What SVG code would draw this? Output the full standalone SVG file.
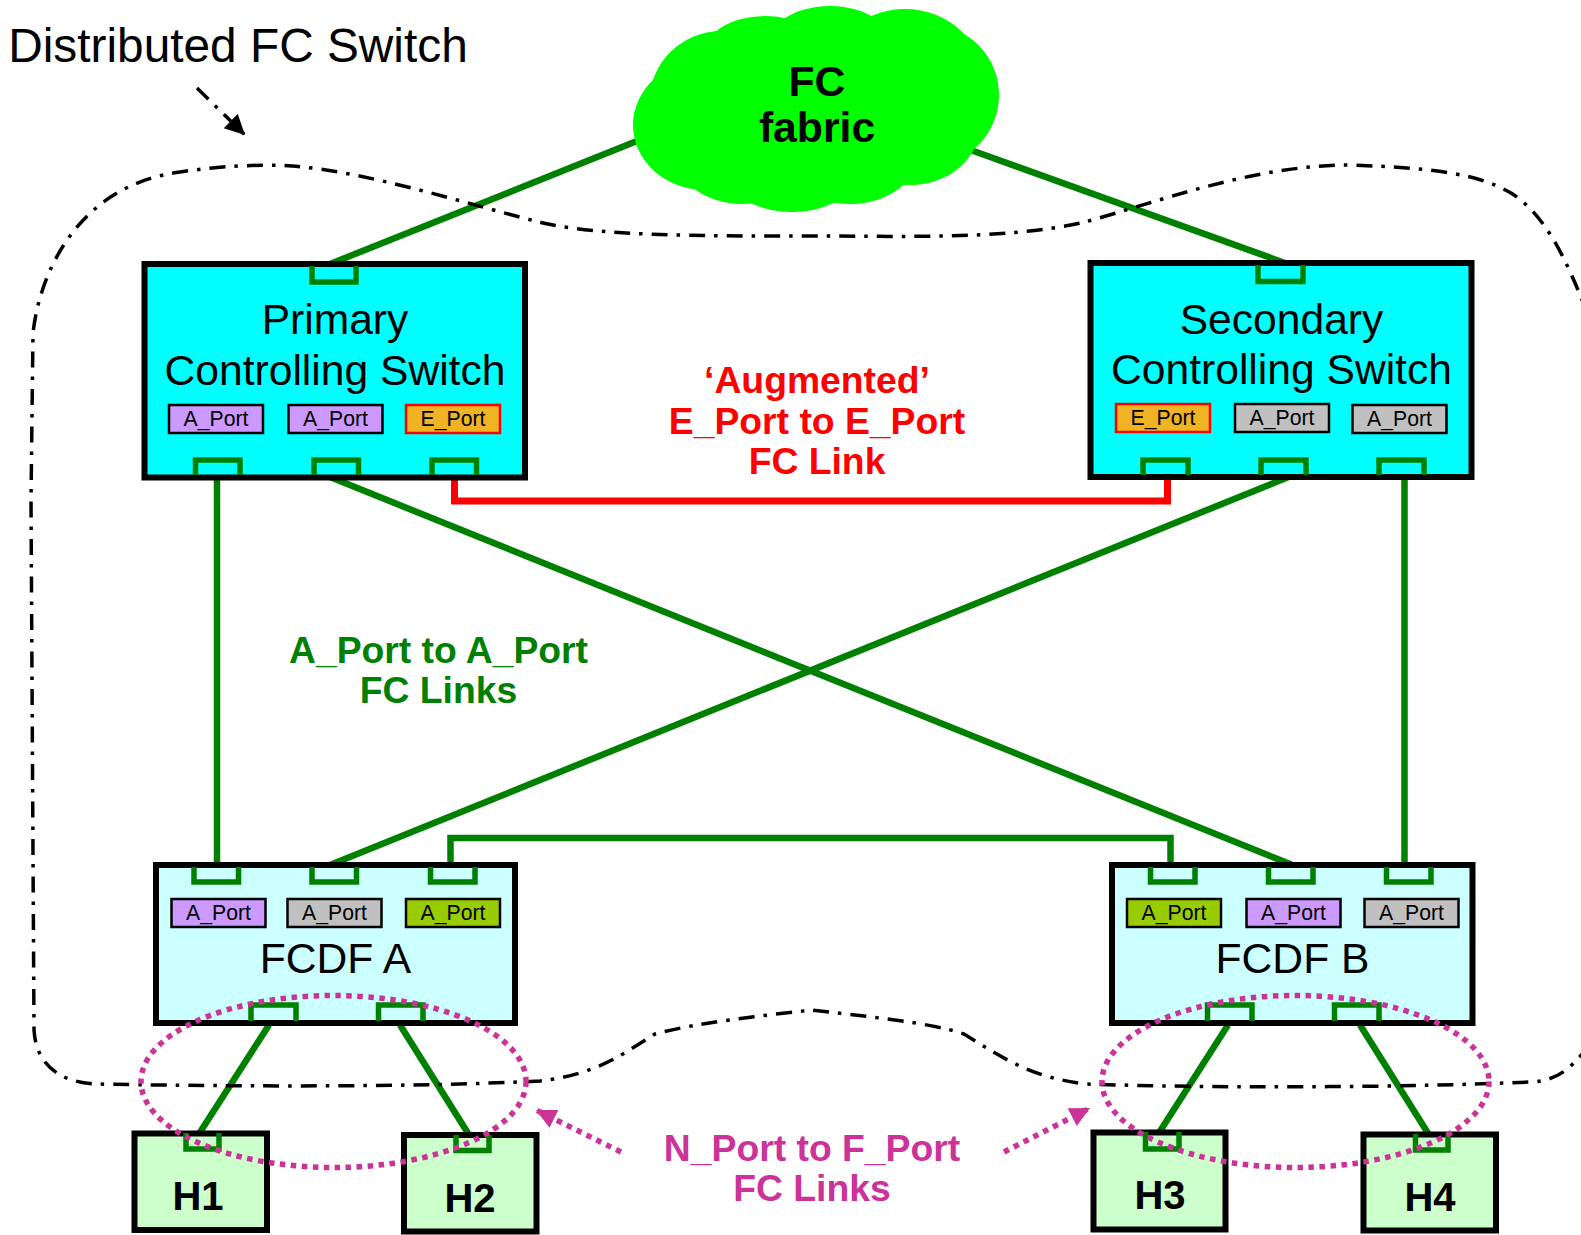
<svg xmlns="http://www.w3.org/2000/svg" width="1581" height="1235" viewBox="0 0 1581 1235">
<style>
text{font-family:"Liberation Sans",Arial,sans-serif;text-anchor:middle;fill:#000}
.box{stroke:#000;stroke-width:6}
.ctl{fill:#00ffff}.fcdf{fill:#ccffff}.host{fill:#ccffcc}
.pb{fill:none;stroke:#008000;stroke-width:5.5}
.link{fill:none;stroke:#008000;stroke-width:6.5}
.elink{fill:none;stroke:#ff0000;stroke-width:7}
.lab{stroke:#000;stroke-width:2.5}
.red{stroke:#ff0000}
.pur{fill:#cc99ff}.gry{fill:#c0c0c0}.olv{fill:#99cc00}.org{fill:#f0b323}
.pt{font-size:21.2px}
.big{font-size:42.6px}
.hb{font-size:40px;font-weight:bold}
.cap{font-size:37.3px;font-weight:bold}
.dd{fill:none;stroke:#000;stroke-width:3.5;stroke-dasharray:16 9 3.5 9}
.dots{fill:none;stroke:#cc3399;stroke-width:5.5;stroke-dasharray:5.5 5.5}
</style>
<defs>
<marker id="ab" markerUnits="userSpaceOnUse" markerWidth="22" markerHeight="22" refX="20" refY="10" orient="auto"><path d="M0,0 L20,10 L0,20 Z" fill="#000"/></marker>
<marker id="ap" markerUnits="userSpaceOnUse" markerWidth="22" markerHeight="22" refX="20" refY="10" orient="auto"><path d="M0,0 L20,10 L0,20 Z" fill="#cc3399"/></marker>
</defs>
<rect width="1581" height="1235" fill="#fff"/>
<g id="connectors">
<path class="link" d="M642,139 L330,264"/>
<path class="link" d="M968,149 L1285,263"/>
<path class="link" d="M217,477 V865"/>
<path class="link" d="M330,477 L1292.5,865"/>
<path class="link" d="M1404.5,477 V865"/>
<path class="link" d="M1288.5,477 L330,865"/>
<path class="link" d="M450.5,865 V838 H1170.5 V865"/>
<path class="elink" d="M454.5,477 V501 H1167.5 V477"/>
<path class="link" d="M269,1025 L199.5,1133"/>
<path class="link" d="M400,1025 L468.5,1134"/>
<path class="link" d="M1228,1025 L1159.5,1132"/>
<path class="link" d="M1360,1025 L1428.5,1134"/>
</g>
<g id="boundary">
<path class="dd" d="M1590,1045 C1572,1066 1560,1081 1530,1082 C1400,1088 1200,1088 1087,1084 C1030,1078 1000,1056 964,1034 C930,1022 860,1016 812,1010 C760,1016 700,1022 655,1034 C625,1052 600,1074 540,1081 C400,1088 200,1086 95,1084 C60,1082 36,1065 34,1030 L31,500 L33,333 C40,270 80,185 180,172 C220,166 260,164 292,166 C370,172 470,205 543,223 C600,236 700,236 812,236 C900,236 1000,240 1081,223 C1150,205 1250,165 1350,165 C1440,168 1480,175 1511,193 C1545,215 1565,255 1590,320"/>
<path class="dd" d="M197,88 L245,135" marker-end="url(#ab)"/>
</g>
<text x="238" y="62" style="font-size:47.8px">Distributed FC Switch</text>
<g id="cloud" fill="#00ff00">
<ellipse cx="705" cy="125" rx="72" ry="65"/>
<ellipse cx="722" cy="100" rx="72" ry="69"/>
<ellipse cx="765" cy="60" rx="65" ry="44"/>
<ellipse cx="830" cy="50" rx="65" ry="44"/>
<ellipse cx="905" cy="85" rx="80" ry="76"/>
<ellipse cx="930" cy="95" rx="69" ry="70"/>
<ellipse cx="910" cy="125" rx="70" ry="60"/>
<ellipse cx="850" cy="150" rx="70" ry="54"/>
<ellipse cx="792" cy="165" rx="70" ry="47"/>
<ellipse cx="743" cy="150" rx="70" ry="54"/>
<ellipse cx="810" cy="110" rx="150" ry="80"/>
<text x="817" y="96" style="font-size:42.7px;font-weight:bold">FC</text>
<text x="817" y="142" style="font-size:42.7px;font-weight:bold">fabric</text>
</g>
<g id="primary">
<rect class="box ctl" x="144.500" y="264" width="380.500" height="213.500"/>
<path class="pb" d="M312,266 V282 H356 V266"/>
<path class="pb" d="M195.500,475 V460 H240 V475"/>
<path class="pb" d="M314,475 V460 H358.500 V475"/>
<path class="pb" d="M432,475 V460 H476.500 V475"/>
<text class="big" x="335" y="334">Primary</text>
<text class="big" x="335" y="385">Controlling Switch</text>
<rect class="lab pur" x="169" y="405" width="94" height="28"/><text class="pt" x="216" y="426">A_Port</text>
<rect class="lab pur" x="288.500" y="405" width="94" height="28"/><text class="pt" x="335.500" y="426">A_Port</text>
<rect class="lab org red" x="406" y="405" width="94" height="28"/><text class="pt" x="453" y="426">E_Port</text>
</g>
<g id="secondary">
<rect class="box ctl" x="1090.500" y="263" width="381" height="214"/>
<path class="pb" d="M1258,265 V281.500 H1303 V265"/>
<path class="pb" d="M1143,475 V460 H1188 V475"/>
<path class="pb" d="M1261,475 V460 H1306 V475"/>
<path class="pb" d="M1379,475 V460 H1424 V475"/>
<text class="big" x="1281.500" y="334">Secondary</text>
<text class="big" x="1281.500" y="384">Controlling Switch</text>
<rect class="lab org red" x="1116" y="404" width="94" height="28"/><text class="pt" x="1163" y="425">E_Port</text>
<rect class="lab gry" x="1235" y="404" width="94" height="28"/><text class="pt" x="1282" y="425">A_Port</text>
<rect class="lab gry" x="1352.500" y="405" width="94" height="28"/><text class="pt" x="1399.500" y="426">A_Port</text>
</g>
<g id="fcdf-a">
<rect class="box fcdf" x="156" y="865" width="359" height="158"/>
<path class="pb" d="M194,867 V882 H238.500 V867"/>
<path class="pb" d="M312,867 V882 H356.500 V867"/>
<path class="pb" d="M430.500,867 V882 H475 V867"/>
<path class="pb" d="M251,1021 V1005 H296 V1021"/>
<path class="pb" d="M378.500,1021 V1005 H423 V1021"/>
<rect class="lab pur" x="171.500" y="899" width="94" height="28"/><text class="pt" x="218.500" y="920">A_Port</text>
<rect class="lab gry" x="287.500" y="899" width="94" height="28"/><text class="pt" x="334.500" y="920">A_Port</text>
<rect class="lab olv" x="406" y="899" width="94" height="28"/><text class="pt" x="453" y="920">A_Port</text>
<text class="big" x="335.500" y="973">FCDF A</text>
</g>
<g id="fcdf-b">
<rect class="box fcdf" x="1112" y="865" width="360.500" height="158"/>
<path class="pb" d="M1150.500,867 V882 H1195 V867"/>
<path class="pb" d="M1268.500,867 V882 H1313 V867"/>
<path class="pb" d="M1386.500,867 V882 H1431 V867"/>
<path class="pb" d="M1207.500,1021 V1005 H1252 V1021"/>
<path class="pb" d="M1334.500,1021 V1005 H1379 V1021"/>
<rect class="lab olv" x="1127" y="899" width="94" height="28"/><text class="pt" x="1174" y="920">A_Port</text>
<rect class="lab pur" x="1246.500" y="899" width="94" height="28"/><text class="pt" x="1293.500" y="920">A_Port</text>
<rect class="lab gry" x="1364.500" y="899" width="94" height="28"/><text class="pt" x="1411.500" y="920">A_Port</text>
<text class="big" x="1292.500" y="973">FCDF B</text>
</g>
<g id="h1">
<rect class="box host" x="134.500" y="1133.500" width="132.500" height="96.500"/>
<path class="pb" d="M186,1133 V1149 H219 V1133"/>
<text class="hb" x="198" y="1210">H1</text>
</g>
<g id="h2">
<rect class="box host" x="404" y="1135" width="132.500" height="96.500"/>
<path class="pb" d="M456,1135 V1150.500 H489 V1135"/>
<text class="hb" x="470" y="1212">H2</text>
</g>
<g id="h3">
<rect class="box host" x="1093.500" y="1132.500" width="132" height="97"/>
<path class="pb" d="M1145.500,1132 V1149 H1179 V1132"/>
<text class="hb" x="1160" y="1209">H3</text>
</g>
<g id="h4">
<rect class="box host" x="1363.500" y="1134.500" width="132.500" height="96"/>
<path class="pb" d="M1415.500,1134 V1150 H1448 V1134"/>
<text class="hb" x="1430" y="1211">H4</text>
</g>
<g id="nport-links">
<ellipse class="dots" cx="333.500" cy="1081.500" rx="192.500" ry="86"/>
<ellipse class="dots" cx="1295.500" cy="1081.500" rx="193.500" ry="86"/>
<path class="dots" d="M621,1152 L536,1110" marker-end="url(#ap)"/>
<path class="dots" d="M1004,1152 L1090,1108" marker-end="url(#ap)"/>
</g>
<g id="labels">
<text class="cap" x="817" y="393" style="fill:#ff0000">‘Augmented’</text>
<text class="cap" x="817" y="434" style="fill:#ff0000">E_Port to E_Port</text>
<text class="cap" x="817" y="474" style="fill:#ff0000">FC Link</text>
<text class="cap" x="438.500" y="663" style="fill:#008000">A_Port to A_Port</text>
<text class="cap" x="438.500" y="703" style="fill:#008000">FC Links</text>
<text class="cap" x="812" y="1161" style="fill:#cc3399">N_Port to F_Port</text>
<text class="cap" x="812" y="1201" style="fill:#cc3399">FC Links</text>
</g>
</svg>
